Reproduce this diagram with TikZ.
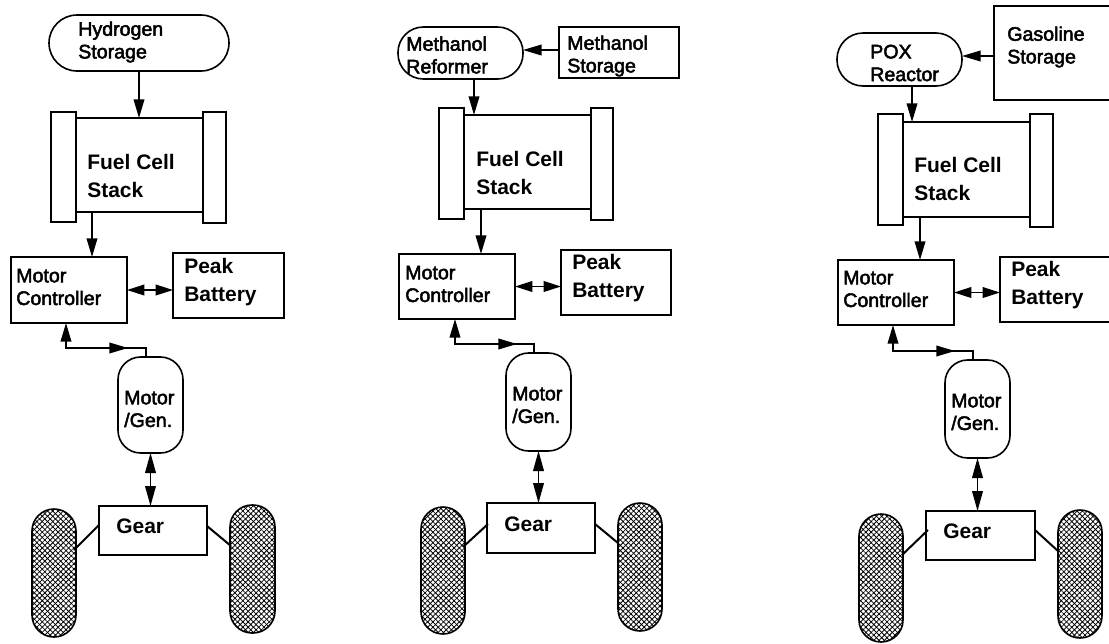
\documentclass[tikz,border=0pt]{standalone}
\usepackage{fontspec}
\setmainfont{Liberation Sans}
\newfontfamily\scanfont[FakeBold=2.5]{Liberation Sans}
\usetikzlibrary{arrows.meta,patterns.meta}

\tikzset{
  px/.style 2 args={minimum width=#1*0.75pt,minimum height=#2*0.75pt},
  block/.style={draw,line width=1.2pt,inner sep=0pt,outer sep=0pt},
  capsule/.style={block,rounded corners=19pt},
  machine/.style={block,rounded corners=17pt},
  wheel/.style={block,rounded corners=16.5pt,
    pattern={Lines[angle=45,distance=2.8pt,line width=.6pt]},
    postaction={pattern={Lines[angle=-45,distance=2.8pt,line width=.6pt]}}},
  lab/.style={inner sep=0pt,anchor=west,align=left,font=\scanfont\fontsize{14.7}{17pt}\selectfont},
  heavy/.style={inner sep=0pt,anchor=west,align=left,font=\bfseries\fontsize{15.75}{21pt}\selectfont},
  gearlab/.style={inner sep=0pt,anchor=base west,font=\bfseries\fontsize{15.75}{21pt}\selectfont},
  flow/.style={line width=1.2pt,-{Triangle[length=14pt,width=8pt]}},
  twoway/.style={line width=1.2pt,{Triangle[length=15pt,width=8pt]}-{Triangle[length=15pt,width=8pt]}},
  buslink/.style={line width=1.2pt,{Triangle[length=13pt,width=8pt]}-{Triangle[length=13pt,width=8pt]}},
  spoke/.style={line width=1.5pt}
}

\begin{document}
\begin{tikzpicture}[x=0.75pt,y=-0.75pt,line cap=butt]
  \useasboundingbox (0,0) rectangle (1109,643);
  \clip (0,0) rectangle (1109,643);
  % Hydrogen
  \node[capsule,rounded corners=21pt,px={180}{56}] (store1) at (139,43) {};
  \node[lab] (storetxt1) at (78,42) {Hydrogen\\Storage};
  \node[block,px={127}{94}] (fc1) at (139.5,165) {};
  \node[block,px={25}{110}] (plateL1) at (63.5,167) {};
  \node[block,px={23}{111}] (plateR1) at (214.5,167.5) {};
  \node[heavy] (fctxt1) at (87,176) {Fuel Cell\\Stack};
  \node[block,px={116}{66}] (mc1) at (69,290) {};
  \node[lab] (mctxt1) at (16,287) {Motor\\Controller};
  \node[block,px={111}{65}] (peak1) at (228.5,285.5) {};
  \node[heavy] (peaktxt1) at (184,282) {Peak\\Battery};
  \node[machine,px={65}{96}] (mg1) at (150.5,405) {};
  \node[lab] (mgtxt1) at (124,409) {Motor\\/Gen.};
  \node[block,px={108}{49}] (gear1) at (153,530.5) {};
  \node[gearlab] (geartxt1) at (116,533) {Gear};
  \node[wheel,px={44}{128}] (wheelL1) at (54,573) {};
  \node[wheel,px={45}{128}] (wheelR1) at (252.5,569) {};
  \coordinate (fcout1) at (92,212); \coordinate (mcport1) at (66,323); \coordinate (mgport1) at (146,357);
  \coordinate (turn1) at (66,348); \coordinate (mid1) at (128,348);
  \coordinate (spokeL1) at (99,525); \coordinate (hubL1) at (74,550); \coordinate (spokeR1) at (207,526); \coordinate (hubR1) at (231,546);
  \draw[flow] (store1.south) -- (store1.south |- fc1.north);
  \draw[flow] (fcout1) -- (fcout1 |- mc1.north);
  \draw[buslink] (mc1.east) -- (mc1.east -| peak1.west);
  \draw[flow] (mgport1) |- (turn1) -- (mcport1);
  \draw[flow] (turn1) -- (mid1);
  \draw[twoway] (mg1.south) -- (mg1.south |- gear1.north);
  \draw[spoke] (spokeL1) -- (hubL1); \draw[spoke] (spokeR1) -- (hubR1);
  % Methanol
  \node[capsule,px={125}{52}] (reformer2) at (460.5,53) {};
  \node[lab] (reformertxt2) at (406,55) {Methanol\\Reformer};
  \node[block,px={120}{51}] (store2) at (619,52.5) {};
  \node[lab] (storetxt2) at (567,56) {Methanol\\Storage};
  \node[block,px={127}{94}] (fc2) at (527.5,162) {};
  \node[block,px={25}{111}] (plateL2) at (451.5,163.5) {};
  \node[block,px={22}{112}] (plateR2) at (602,164) {};
  \node[heavy] (fctxt2) at (476,173) {Fuel Cell\\Stack};
  \node[block,px={116}{65}] (mc2) at (457,286.5) {};
  \node[lab] (mctxt2) at (405,284) {Motor\\Controller};
  \node[block,px={110}{65}] (peak2) at (616,282.5) {};
  \node[heavy] (peaktxt2) at (572,278) {Peak\\Battery};
  \node[machine,px={65}{98}] (mg2) at (538.5,402) {};
  \node[lab] (mgtxt2) at (512,405) {Motor\\/Gen.};
  \node[block,px={108}{50}] (gear2) at (541,528) {};
  \node[gearlab] (geartxt2) at (504,531) {Gear};
  \node[wheel,px={44}{127}] (wheelL2) at (443,570.5) {};
  \node[wheel,px={44}{128}] (wheelR2) at (640,567) {};
  \coordinate (storeout2) at (559,50); \coordinate (refout2) at (474,79);
  \coordinate (fcout2) at (481,209); \coordinate (mcport2) at (455,319); \coordinate (mgport2) at (534,353);
  \coordinate (turn2) at (455,344); \coordinate (mid2) at (517,344);
  \coordinate (spokeL2) at (488,524); \coordinate (hubL2) at (463,547); \coordinate (spokeR2) at (595,524); \coordinate (hubR2) at (618,543);
  \draw[flow] (storeout2) -- (storeout2 -| reformer2.east);
  \draw[flow] (refout2) -- (refout2 |- fc2.north);
  \draw[flow] (fcout2) -- (fcout2 |- mc2.north);
  \draw[buslink] (mc2.east) -- (mc2.east -| peak2.west);
  \draw[flow] (mgport2) |- (turn2) -- (mcport2);
  \draw[flow] (turn2) -- (mid2);
  \draw[twoway] (mg2.south) -- (mg2.south |- gear2.north);
  \draw[spoke] (spokeL2) -- (hubL2); \draw[spoke] (spokeR2) -- (hubR2);
  % Gasoline
  \node[capsule,rounded corners=19.5pt,px={125}{53}] (pox3) at (899.5,59.5) {};
  \node[lab] (poxtxt3) at (870,63) {POX\\Reactor};
  \node[block,px={121}{94}] (store3) at (1054.5,53) {};
  \node[lab] (storetxt3) at (1007,47) {Gasoline\\Storage};
  \node[block,px={127}{95}] (fc3) at (966.5,169.5) {};
  \node[block,px={25}{111}] (plateL3) at (890.5,169.5) {};
  \node[block,px={23}{113}] (plateR3) at (1041.5,170.5) {};
  \node[heavy] (fctxt3) at (914,179) {Fuel Cell\\Stack};
  \node[block,px={116}{65}] (mc3) at (896,292.5) {};
  \node[lab] (mctxt3) at (843,289) {Motor\\Controller};
  \node[block,px={120}{65}] (peak3) at (1060,289.5) {};
  \node[heavy] (peaktxt3) at (1011,285) {Peak\\Battery};
  \node[machine,px={65}{98}] (mg3) at (977.5,409) {};
  \node[lab] (mgtxt3) at (951,412) {Motor\\/Gen.};
  \node[block,px={109}{49}] (gear3) at (980.5,535.5) {};
  \node[gearlab] (geartxt3) at (943,538) {Gear};
  \node[wheel,px={44}{128}] (wheelL3) at (881,578) {};
  \node[wheel,px={44}{128}] (wheelR3) at (1080,574) {};
  \coordinate (storeout3) at (994,56); \coordinate (poxout3) at (912,86);
  \coordinate (fcout3) at (920,217); \coordinate (mcport3) at (893,325); \coordinate (mgport3) at (973,360);
  \coordinate (turn3) at (893,351); \coordinate (mid3) at (955,351);
  \coordinate (spokeL3) at (928,530); \coordinate (hubL3) at (902,555); \coordinate (spokeR3) at (1035,530); \coordinate (hubR3) at (1058,551);
  \draw[flow] (storeout3) -- (storeout3 -| pox3.east);
  \draw[flow] (poxout3) -- (poxout3 |- fc3.north);
  \draw[flow] (fcout3) -- (fcout3 |- mc3.north);
  \draw[buslink] (mc3.east) -- (mc3.east -| peak3.west);
  \draw[flow] (mgport3) |- (turn3) -- (mcport3);
  \draw[flow] (turn3) -- (mid3);
  \draw[twoway] (mg3.south) -- (mg3.south |- gear3.north);
  \draw[spoke] (spokeL3) -- (hubL3); \draw[spoke] (spokeR3) -- (hubR3);
\end{tikzpicture}
\end{document}
